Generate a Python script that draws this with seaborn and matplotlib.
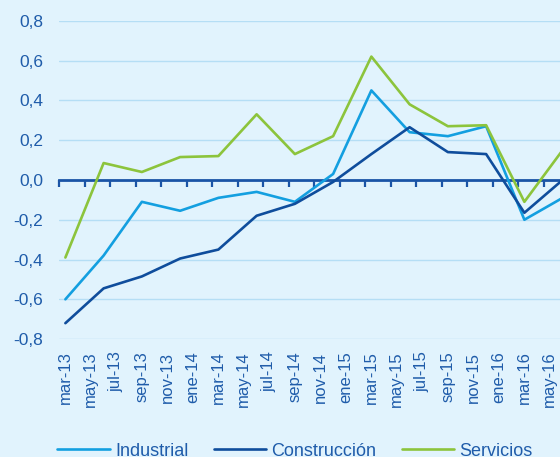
import pandas as pd
import seaborn as sns
import matplotlib.pyplot as plt
from matplotlib.ticker import FixedLocator, FuncFormatter

# Monthly category axis (Spanish month names), data is quarterly
meses = ["ene", "feb", "mar", "abr", "may", "jun", "jul", "ago", "sep", "oct", "nov", "dic"]
months = [f"{meses[(2 + i) % 12]}-{13 + (2 + i) // 12}" for i in range(40)]

quarters = ["mar-13", "jun-13", "sep-13", "dic-13", "mar-14", "jun-14", "sep-14",
            "dic-14", "mar-15", "jun-15", "sep-15", "dic-15", "mar-16", "jun-16"]
industrial = [-0.60, -0.38, -0.11, -0.155, -0.09, -0.06, -0.11,
              0.03, 0.45, 0.24, 0.22, 0.27, -0.20, -0.09]
construccion = [-0.72, -0.545, -0.485, -0.395, -0.35, -0.18, -0.12,
                -0.01, 0.13, 0.265, 0.14, 0.13, -0.165, 0.0]
servicios = [-0.39, 0.085, 0.04, 0.115, 0.12, 0.33, 0.13,
             0.22, 0.62, 0.38, 0.27, 0.275, -0.11, 0.15]

series = ["Industrial", "Construcción", "Servicios"]
colors = ["#139fe0", "#0f4d9c", "#8cc43c"]

rows = []
for name, vals in zip(series, [industrial, construccion, servicios]):
    for q, v in zip(quarters, vals):
        rows.append({"mes": months.index(q), "valor": v, "serie": name})
df = pd.DataFrame(rows)

sns.set_style("white")
plt.rcParams["font.family"] = ["Liberation Sans", "DejaVu Sans"]

bg = "#e1f3fd"
txt = "#1f5caa"

fig = plt.figure(figsize=(5.6, 4.57), dpi=100, facecolor=bg)
ax = fig.add_axes([59 / 560, 0.258, 510 / 560, 0.6965], facecolor=bg)

sns.lineplot(data=df, x="mes", y="valor", hue="serie", hue_order=series,
             palette=colors, linewidth=1.9, ax=ax, zorder=3)

ax.set_xlim(-0.5, 39.5)
ax.set_ylim(-0.8, 0.8)
ax.set_xlabel("")
ax.set_ylabel("")

# y axis
ax.set_yticks([-0.8, -0.6, -0.4, -0.2, 0.0, 0.2, 0.4, 0.6, 0.8])
ax.yaxis.set_major_formatter(FuncFormatter(lambda v, p: f"{v:.1f}".replace(".", ",")))
ax.grid(axis="y", color="#b5def5", linewidth=1)
ax.tick_params(axis="y", length=0, pad=11.5, labelsize=12.5, labelcolor=txt)

# x labels every two months, tick marks between categories on the zero line
ax.set_xticks(range(0, 40, 2))
ax.set_xticklabels(months[::2])
ax.xaxis.set_minor_locator(FixedLocator([i - 0.5 for i in range(0, 41, 2)]))
ax.tick_params(axis="x", which="major", length=0, pad=9, labelsize=12,
               labelcolor=txt, labelrotation=90)
ax.tick_params(axis="x", which="minor", bottom=False, top=True, direction="in",
               length=5, width=1.6, color="#1a54a6")

for s in ["left", "right", "bottom"]:
    ax.spines[s].set_visible(False)
ax.spines["top"].set_position(("data", 0))
ax.spines["top"].set_color("#1a54a6")
ax.spines["top"].set_linewidth(2)
ax.spines["top"].set_zorder(2)

handles, labels = ax.get_legend_handles_labels()
ax.legend(handles, labels, loc="center", bbox_to_anchor=(0.527, 0.013),
          bbox_transform=fig.transFigure, ncol=3, frameon=False,
          handlelength=2.9, handletextpad=0.3, columnspacing=1.4,
          fontsize=13, labelcolor=txt)

plt.savefig("out.png", dpi=100, facecolor=bg)
plt.close()
